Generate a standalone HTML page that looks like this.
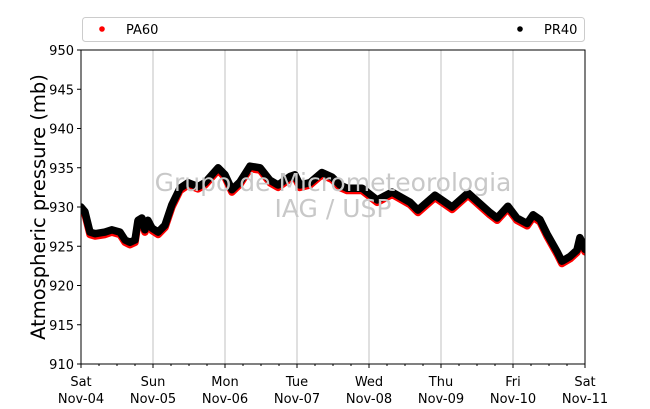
<!DOCTYPE html>
<html><head><meta charset="utf-8"><style>
body{margin:0;background:#fff;}
svg{display:block;font-family:"DejaVu Sans","Liberation Sans",sans-serif;}
</style></head><body>
<svg id="chart" width="650" height="409">
<defs><clipPath id="plotclip"><rect x="81" y="50" width="504" height="314"/></clipPath></defs>
<rect x="0" y="0" width="650" height="409" fill="#fff"/>
<g id="grid"></g>
<g id="series" clip-path="url(#plotclip)"></g>
<text x="333" y="191" text-anchor="middle" font-size="25" fill="#c8c8c8">Grupo de Micrometeorologia</text>
<text x="333" y="217" text-anchor="middle" font-size="25" fill="#c8c8c8">IAG / USP</text>
<rect x="81" y="50" width="504" height="314" fill="none" stroke="#000" stroke-width="1"/>
<g id="axes"></g>
<text transform="translate(45,207) rotate(-90)" text-anchor="middle" font-size="19.5" fill="#000">Atmospheric pressure (mb)</text>
<g>
<rect x="82.5" y="17.5" width="502" height="24" rx="3" fill="#fff" stroke="#ccc"/>
<circle cx="102" cy="29" r="2.8" fill="#f00"/>
<text x="126" y="34" font-size="13">PA60</text>
<circle cx="520" cy="29" r="2.8" fill="#000"/>
<text x="544" y="34" font-size="13">PR40</text>
</g>
</svg>
<script>
const hours=[0,1.3,3,4.7,8,10.3,13,14.7,16.3,18,19,20.3,21.3,22.3,23.7,25.7,28,30.3,33,35.7,39,41.3,45.7,48,50.3,53,56.3,59.7,63,65.7,69.7,71.3,73,76.3,80.3,83.7,86.3,88.7,93.7,98.7,103.7,109.7,112.3,118,123.7,129,136.3,138.7,142.3,145.3,148.7,150.7,153,155.3,158.7,160.3,163,165.3,166.3,168];
const pr40=[930.0,929.4,926.8,926.6,926.8,927.1,926.8,925.8,925.5,925.8,928.3,928.6,927.1,928.3,927.3,926.8,927.7,930.3,932.4,933.1,932.6,933.1,935.0,934.1,932.2,933.2,935.2,935.0,933.4,932.8,933.9,934.1,932.8,933.1,934.4,933.8,932.8,932.4,932.4,930.9,931.9,930.6,929.6,931.5,930.0,931.8,929.3,928.6,930.1,928.6,927.9,929.0,928.4,926.6,924.3,923.1,923.7,924.5,926.1,924.6];
const pa60=[929.7,929.1,926.5,926.3,926.5,926.8,926.5,925.5,925.2,925.5,928.0,928.3,926.8,928.0,927.0,926.5,927.4,930.0,932.1,932.8,932.3,932.8,934.7,933.8,931.9,932.9,934.9,934.7,933.1,932.5,933.6,933.8,932.5,932.8,934.1,933.5,932.5,932.1,932.1,930.6,931.6,930.3,929.3,931.2,929.7,931.5,929.0,928.3,929.8,928.3,927.6,928.7,928.1,926.3,924.0,922.8,923.4,924.2,925.8,924.3];
const yTicks=[910,915,920,925,930,935,940,945,950];
const dayNames=["Sat","Sun","Mon","Tue","Wed","Thu","Fri","Sat"];
const dayDates=["Nov-04","Nov-05","Nov-06","Nov-07","Nov-08","Nov-09","Nov-10","Nov-11"];
const X0=81,X1=585,Y0=364,Y1=50,YMIN=910,YMAX=950,HMAX=168;
const sx=h=>X0+(h/HMAX)*(X1-X0);
const sy=v=>Y0-(v-YMIN)/(YMAX-YMIN)*(Y0-Y1);
const NS="http://www.w3.org/2000/svg";
function mk(t,a,p){const e=document.createElementNS(NS,t);for(const k in a)e.setAttribute(k,a[k]);p.appendChild(e);return e;}
const grid=document.getElementById('grid'),axes=document.getElementById('axes'),ser=document.getElementById('series');
dayNames.forEach((d,i)=>{
  const x=sx(i*24);
  if(i>0&&i<dayNames.length-1){const g=mk('line',{x1:x,x2:x,y1:Y1,y2:Y0,stroke:'#c0c0c0','stroke-width':1},grid);
  
  }
  const t=mk('line',{x1:x,x2:x,y1:Y0,y2:Y0+4,stroke:'#000'},axes);
  
  
  const l=mk('text',{x:x,y:386,'text-anchor':'middle','font-size':13},axes);l.textContent=d;
  
  
  const l2=mk('text',{x:x,y:403,'text-anchor':'middle','font-size':13},axes);l2.textContent=dayDates[i];
  
  
  if(i<dayNames.length-1)for(let m=1;m<4;m++){const mx=sx(i*24+m*6);const mt=mk('line',{x1:mx,x2:mx,y1:Y0,y2:Y0+2,stroke:'#000'},axes);
  
  }
});
yTicks.forEach(v=>{
  const y=sy(v);
  const t=mk('line',{x1:X0-4,x2:X0,y1:y,y2:y,stroke:'#000'},axes);
  
  
  const l=mk('text',{x:X0-7,y:y+5,'text-anchor':'end','font-size':13},axes);l.textContent=v;
  
  
});
function pts(vals){return hours.map((h,i)=>sx(h).toFixed(1)+','+sy(vals[i]).toFixed(1)).join(' ');}
const r=mk('polyline',{points:pts(pa60),fill:'none',stroke:'#f00','stroke-width':7.5,'stroke-linejoin':'round','stroke-linecap':'round'},ser);


const b=mk('polyline',{points:pts(pr40),fill:'none',stroke:'#000','stroke-width':7.5,'stroke-linejoin':'round','stroke-linecap':'round'},ser);


</script>
</body></html>
